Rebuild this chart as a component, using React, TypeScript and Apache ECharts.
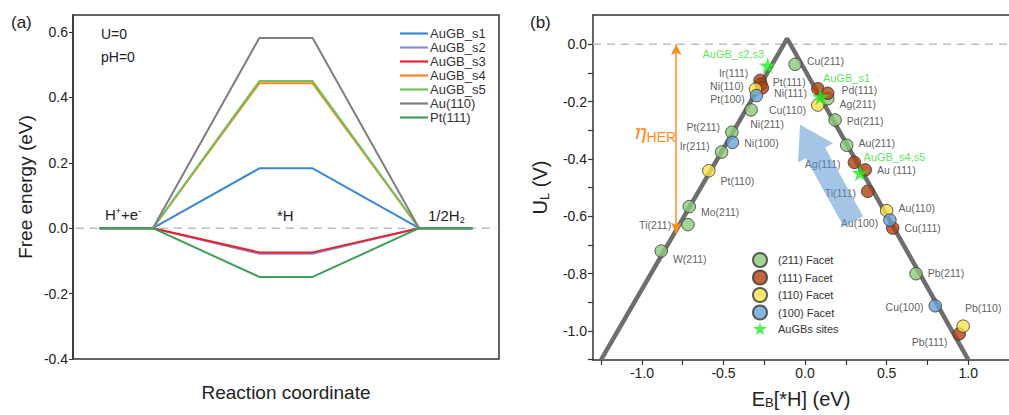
import React, { useEffect, useRef } from "react";
import * as echarts from "echarts";

// ---------- Panel (a) data ----------
const stepX = [0.5, 1.5, 3.5, 4.5, 6.5, 7.5];
const profileNames = ["AuGB_s1", "AuGB_s2", "AuGB_s3", "AuGB_s4", "AuGB_s5", "Au(110)", "Pt(111)"];
const profileH = [0.183, -0.078, -0.074, 0.443, 0.45, 0.582, -0.149];
const profileColors = ["#3b88d6", "#8b8fe0", "#e8232b", "#f7871d", "#72c05e", "#7f7f7f", "#3e9e5c"];
const energyTicks = [-0.4, -0.2, 0, 0.2, 0.4, 0.6];

// ---------- Panel (b) data ----------
const facet211: [string, number, number][] = [
  ["Cu(211)", -0.061, -0.07],
  ["Ag(211)", 0.139, -0.19],
  ["Pd(211)", 0.184, -0.264],
  ["Au(211)", 0.255, -0.352],
  ["Pb(211)", 0.68, -0.8],
  ["Ni(211)", -0.331, -0.229],
  ["Pt(211)", -0.449, -0.307],
  ["Ir(211)", -0.512, -0.376],
  ["Mo(211)", -0.71, -0.566],
  ["Ti(211)", -0.718, -0.629],
  ["W(211)", -0.882, -0.721],
];
const facet111: [string, number, number][] = [
  ["Ir(111)", -0.276, -0.126],
  ["Pt(111)", -0.27, -0.14],
  ["Ni(111)", -0.262, -0.152],
  ["", 0.078, -0.155],
  ["Pd(111)", 0.139, -0.171],
  ["Ag(111)", 0.302, -0.412],
  ["Au (111)", 0.369, -0.438],
  ["Ti(111)", 0.384, -0.513],
  ["Cu(111)", 0.537, -0.641],
  ["Pb(111)", 0.945, -1.01],
];
const facet110: [string, number, number][] = [
  ["Ni(110)", -0.304, -0.157],
  ["Pt(110)", -0.59, -0.441],
  ["Cu(110)", 0.078, -0.212],
  ["Au(110)", 0.5, -0.58],
  ["Pb(110)", 0.969, -0.983],
];
const facet100: [string, number, number][] = [
  ["Pt(100)", -0.298, -0.179],
  ["Ni(100)", -0.445, -0.342],
  ["Au(100)", 0.52, -0.613],
  ["Cu(100)", 0.798, -0.912],
];
const auGBSites: [string, number, number][] = [
  ["AuGB_s2,s3", -0.229, -0.074],
  ["AuGB_s1", 0.094, -0.183],
  ["AuGB_s4,s5", 0.337, -0.448],
];
const volcanoLine = [
  [-1.25, -1.1],
  [-0.11, 0.02],
  [1.0, -1.1],
];
const etaArrowX = -0.79;
const etaArrowBottom = -0.66;
const trendArrow = [0.296, -0.618, -0.031, -0.281]; // tail x,y -> tip x,y
const ebLabelTicks = [-1, -0.5, 0, 0.5, 1];
const ebMinorTicks = [-1.25, -1, -0.75, -0.5, -0.25, 0, 0.25, 0.5, 0.75, 1];
const ulLabelTicks = [-1, -0.8, -0.6, -0.4, -0.2, 0];
const ulMinorTicks = [-1.1, -1, -0.9, -0.8, -0.7, -0.6, -0.5, -0.4, -0.3, -0.2, -0.1, 0];

// label placement (style): name -> [position, dx, dy]
const labelPlace: Record<string, [string, number, number]> = {
  "Cu(211)": ["right", 0, -3],
  "Ag(211)": ["right", 0, 5],
  "Pd(211)": ["right", 0, 1],
  "Au(211)": ["right", 0, -2],
  "Pb(211)": ["right", 0, -1],
  "Ni(211)": ["bottom", 16, -3],
  "Pt(211)": ["left", 0, -5],
  "Ir(211)": ["left", 0, -6],
  "Mo(211)": ["right", 0, 5],
  "Ti(211)": ["left", -5, 0],
  "W(211)": ["right", 0, 8],
  "Ir(111)": ["left", 0, -7],
  "Pt(111)": ["right", 0, -2],
  "Ni(111)": ["right", 0, 5],
  "Pd(111)": ["right", 2, -3],
  "Ag(111)": ["left", -2, 2],
  "Au (111)": ["right", 0, 0],
  "Ti(111)": ["left", 0, 2],
  "Cu(111)": ["right", 0, 0],
  "Pb(111)": ["left", 0, 8],
  "Ni(110)": ["left", 0, -3],
  "Pt(110)": ["right", 0, 10],
  "Cu(110)": ["left", 0, 5],
  "Au(110)": ["right", 0, -3],
  "Pb(110)": ["top", 20, -1],
  "Pt(100)": ["left", 0, 3],
  "Ni(100)": ["right", 0, 1],
  "Au(100)": ["left", 0, 3],
  "Cu(100)": ["left", 0, 1],
  "AuGB_s2,s3": ["left", 10, -11],
  "AuGB_s1": ["right", -11, -19],
  "AuGB_s4,s5": ["right", -10, -16],
};

const FONT = "Liberation Sans, Arial, sans-serif";
const STAR =
  "path://M50,0 L61,35 L98,35 L68,57 L79,91 L50,70 L21,91 L32,57 L2,35 L39,35 Z";
const LINE_ICON = "path://M0,0 L28,0 L28,2.2 L0,2.2 Z";

function toItems(arr: [string, number, number][], labelColor: string) {
  return arr.map(([name, x, y]) => {
    const p = labelPlace[name];
    return {
      name,
      value: [x, y],
      label: p
        ? { show: true, position: p[0], offset: [p[1], p[2]], color: labelColor }
        : { show: false },
    };
  });
}

export default function App() {
  const ref = useRef<HTMLDivElement>(null);
  useEffect(() => {
    if (!ref.current) return;
    const chart = echarts.init(ref.current, undefined, { renderer: "svg" });

    const profileSeries = profileNames.map((name, i) => ({
      name,
      type: "line",
      xAxisIndex: 0,
      yAxisIndex: 0,
      symbol: "none",
      lineStyle: { width: 2, color: profileColors[i] },
      itemStyle: { color: profileColors[i] },
      data: stepX.map((x, k) => [x, k === 2 || k === 3 ? profileH[i] : 0]),
      z: 3,
    }));

    const scatterBase = {
      type: "scatter",
      xAxisIndex: 1,
      yAxisIndex: 1,
      symbolSize: 12.5,
      label: { fontSize: 10.5, fontFamily: FONT, formatter: "{b}", distance: 5 },
      z: 4,
    };

    const option: any = {
      animation: false,
      textStyle: { fontFamily: FONT },
      grid: [
        {
          left: 73,
          top: 15,
          width: 426,
          height: 344,
          show: true,
          borderColor: "#333",
          borderWidth: 1.5,
          containLabel: false,
          outerBoundsMode: "none",
        },
        { left: 593, top: 15, right: 0, height: 345, containLabel: false, outerBoundsMode: "none" },
      ],
      legend: [
        {
          data: profileNames.map((n) => ({ name: n, icon: LINE_ICON })),
          orient: "vertical",
          left: 395,
          top: 22,
          itemWidth: 28,
          itemHeight: 14,
          itemGap: 1,
          textStyle: { fontSize: 13, color: "#333", fontFamily: FONT, padding: [0, 0, 0, -3] },
        },
        {
          data: ["(211) Facet", "(111) Facet", "(110) Facet", "(100) Facet", "AuGBs sites"],
          orient: "vertical",
          left: 747,
          top: 247,
          itemWidth: 14,
          itemHeight: 14,
          itemGap: 1.5,
          textStyle: { fontSize: 11, color: "#333", fontFamily: FONT, padding: [0, 0, 0, 6] },
        },
      ],
      xAxis: [
        {
          type: "value",
          gridIndex: 0,
          min: 0,
          max: 8,
          axisLine: { show: false },
          axisTick: { show: false },
          axisLabel: { show: false },
          splitLine: { show: false },
          name: "Reaction coordinate",
          nameLocation: "middle",
          nameGap: 24,
          nameTextStyle: { fontSize: 19, color: "#222", fontFamily: FONT },
        },
        {
          type: "value",
          gridIndex: 1,
          min: -1.3,
          max: 1.25,
          axisLine: { show: true, onZero: false, lineStyle: { color: "#333", width: 1.5 } },
          axisTick: { show: true, inside: false, length: 5, customValues: ebMinorTicks, lineStyle: { color: "#333", width: 1.2 } },
          axisLabel: {
            customValues: ebLabelTicks,
            fontSize: 14,
            color: "#222",
            margin: 6,
            formatter: (v: number) => v.toFixed(1),
          },
          splitLine: { show: false },
          name: "E{sub|B}[*H] (eV)",
          nameLocation: "middle",
          nameGap: 29,
          nameTextStyle: {
            fontSize: 20,
            color: "#222",
            fontFamily: FONT,
            rich: { sub: { fontSize: 13, color: "#222", verticalAlign: "bottom", padding: [7, 0, 0, 0] } },
          },
        },
        {
          type: "value",
          gridIndex: 1,
          position: "top",
          min: -1.3,
          max: 1.25,
          axisLine: { show: true, onZero: false, lineStyle: { color: "#333", width: 1.5 } },
          axisTick: { show: false },
          axisLabel: { show: false },
          splitLine: { show: false },
        },
      ],
      yAxis: [
        {
          type: "value",
          gridIndex: 0,
          min: -0.4,
          max: 0.652,
          axisLine: { show: true, onZero: false, lineStyle: { color: "#333", width: 1.5 } },
          axisTick: { show: true, length: 4, customValues: energyTicks, lineStyle: { color: "#333" } },
          axisLabel: {
            customValues: energyTicks,
            fontSize: 14,
            color: "#222",
            margin: 5,
            formatter: (v: number) => v.toFixed(1),
          },
          splitLine: { show: false },
          name: "Free energy (eV)",
          nameLocation: "middle",
          nameGap: 38,
          nameTextStyle: { fontSize: 19, color: "#222", fontFamily: FONT },
        },
        {
          type: "value",
          gridIndex: 1,
          min: -1.101,
          max: 0.102,
          axisLine: { show: true, onZero: false, lineStyle: { color: "#333", width: 1.5 } },
          axisTick: { show: true, length: 5, customValues: ulMinorTicks, lineStyle: { color: "#333", width: 1.2 } },
          axisLabel: {
            customValues: ulLabelTicks,
            fontSize: 14,
            color: "#222",
            margin: 6,
            formatter: (v: number) => v.toFixed(1),
          },
          splitLine: { show: false },
          name: "U{sub|L} (V)",
          nameLocation: "middle",
          nameGap: 42,
          nameTextStyle: {
            fontSize: 20,
            color: "#222",
            fontFamily: FONT,
            rich: { sub: { fontSize: 13, color: "#222", verticalAlign: "bottom", padding: [10, 0, 0, 0] } },
          },
        },
      ],
      series: [
        {
          name: "zero-a",
          type: "line",
          xAxisIndex: 0,
          yAxisIndex: 0,
          symbol: "none",
          silent: true,
          lineStyle: { color: "#bdbdbd", width: 1.5, type: [8, 6] },
          data: [
            [0.05, 0],
            [7.95, 0],
          ],
          z: 2,
        },
        ...profileSeries,
        {
          name: "zero-b",
          type: "line",
          xAxisIndex: 1,
          yAxisIndex: 1,
          symbol: "none",
          silent: true,
          lineStyle: { color: "#bdbdbd", width: 1.5, type: [8, 6] },
          data: [
            [-1.3, 0],
            [1.25, 0],
          ],
          z: 2,
        },
        {
          name: "volcano",
          type: "line",
          xAxisIndex: 1,
          yAxisIndex: 1,
          symbol: "none",
          silent: true,
          clip: true,
          lineStyle: { color: "#6e6e6e", width: 4.5 },
          data: volcanoLine,
          z: 2,
          markLine: {
            silent: true,
            symbol: ["arrow", "arrow"],
            symbolSize: [8, 11],
            lineStyle: { color: "#ff8a1c", width: 1.5, type: "solid" },
            label: { show: false },
            data: [[{ coord: [etaArrowX, 0] }, { coord: [etaArrowX, etaArrowBottom] }]],
          },
        },
        {
          ...scatterBase,
          name: "(211) Facet",
          itemStyle: { color: "#8dc97b", borderColor: "#333", borderWidth: 1 },
          data: toItems(facet211, "#333"),
        },
        {
          ...scatterBase,
          name: "(111) Facet",
          itemStyle: { color: "#b0410f", borderColor: "#333", borderWidth: 1 },
          data: toItems(facet111, "#333"),
        },
        {
          ...scatterBase,
          name: "(110) Facet",
          itemStyle: { color: "#fbe14a", borderColor: "#333", borderWidth: 1 },
          data: toItems(facet110, "#333"),
        },
        {
          ...scatterBase,
          name: "(100) Facet",
          itemStyle: { color: "#6aa3d8", borderColor: "#333", borderWidth: 1 },
          data: toItems(facet100, "#333"),
        },
        {
          ...scatterBase,
          name: "AuGBs sites",
          symbol: STAR,
          symbolSize: 17,
          itemStyle: { color: "#22ee22" },
          label: { fontSize: 11, fontFamily: FONT, formatter: "{b}", distance: 5 },
          data: toItems(auGBSites, "#2fe02f"),
          z: 5,
        },
        {
          name: "trend-arrow",
          type: "custom",
          xAxisIndex: 1,
          yAxisIndex: 1,
          silent: true,
          z: 6,
          data: [trendArrow],
          renderItem: (params: any, api: any) => {
            const tail = api.coord([api.value(0), api.value(1)]);
            const tip = api.coord([api.value(2), api.value(3)]);
            const dx = tip[0] - tail[0];
            const dy = tip[1] - tail[1];
            const len = Math.sqrt(dx * dx + dy * dy);
            const ux = dx / len;
            const uy = dy / len;
            const px = -uy;
            const py = ux;
            const headLen = 32;
            const sw = 11;
            const hw = 20;
            const nx = tip[0] - ux * headLen;
            const ny = tip[1] - uy * headLen;
            const points = [
              [tail[0] + px * sw, tail[1] + py * sw],
              [nx + px * sw, ny + py * sw],
              [nx + px * hw, ny + py * hw],
              [tip[0], tip[1]],
              [nx - px * hw, ny - py * hw],
              [nx - px * sw, ny - py * sw],
              [tail[0] - px * sw, tail[1] - py * sw],
            ];
            return {
              type: "polygon",
              shape: { points },
              style: { fill: "rgba(90,150,210,0.55)" },
            };
          },
        },
      ],
      graphic: [
        { type: "text", left: 11, top: 14, style: { text: "(a)", fontSize: 17, fill: "#222", fontFamily: FONT } },
        { type: "text", left: 101, top: 27, style: { text: "U=0", fontSize: 14, fill: "#222", fontFamily: FONT } },
        { type: "text", left: 101, top: 50, style: { text: "pH=0", fontSize: 14, fill: "#222", fontFamily: FONT } },
        {
          type: "text",
          left: 105,
          top: 206,
          style: {
            text: "H{sup|+}+e{sup|-}",
            fontSize: 15,
            fill: "#222",
            fontFamily: FONT,
            rich: { sup: { fontSize: 9, fill: "#222", fontFamily: FONT, verticalAlign: "top", padding: [0, 0, 8, 0] } },
          },
        },
        { type: "text", left: 277, top: 208, style: { text: "*H", fontSize: 15, fill: "#222", fontFamily: FONT } },
        {
          type: "text",
          left: 428,
          top: 208,
          style: {
            text: "1/2H{sub|2}",
            fontSize: 15,
            fill: "#222",
            fontFamily: FONT,
            rich: { sub: { fontSize: 9, fill: "#222", fontFamily: FONT, padding: [8, 0, 0, 0] } },
          },
        },
        { type: "text", left: 530, top: 14, style: { text: "(b)", fontSize: 17, fill: "#222", fontFamily: FONT } },
        {
          type: "text",
          left: 634,
          top: 121,
          style: {
            text: "{e|η}{s|HER}",
            rich: {
              e: { fontSize: 21, fontStyle: "italic", fill: "#ff8a1c", fontFamily: "DejaVu Serif" },
              s: { fontSize: 14, fill: "#ff8a1c", fontFamily: FONT, padding: [10, 0, 0, 0] },
            },
          },
        },
      ],
    };
    chart.setOption(option);
    return () => chart.dispose();
  }, []);
  return (
    <div
      ref={ref}
      style={{ position: "absolute", left: 0, top: 0, width: 1009, height: 415, background: "#fff" }}
    />
  );
}
